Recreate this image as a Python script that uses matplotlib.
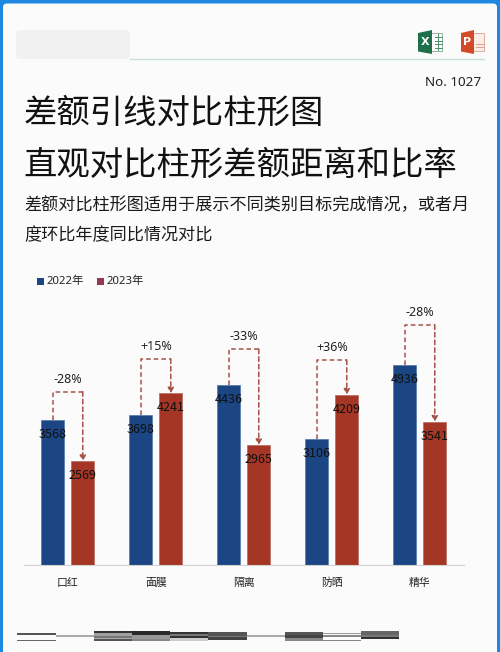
import matplotlib
matplotlib.use("Agg")
import matplotlib.pyplot as plt
from matplotlib.patches import Rectangle, FancyBboxPatch, Polygon

plt.rcParams['font.family'] = ['Noto Sans', 'Noto Sans CJK SC', 'DejaVu Sans']

categories = ['口红', '面膜', '隔离', '防晒', '精华']
series_names = ['2022年', '2023年']
values_2022 = [3568, 3698, 4436, 3106, 4936]
values_2023 = [2569, 4241, 2965, 4209, 3541]
diff_labels = ['-28%', '+15%', '-33%', '+36%', '-28%']
bracket_levels = [4280, 5090, 5330, 5060, 5930]
title_lines = ['差额引线对比柱形图', '直观对比柱形差额距离和比率']
body_lines = ['差额对比柱形图适用于展示不同类别目标完成情况，或者月', '度环比年度同比情况对比']

BLUE = '#1C4583'
RED = '#A53625'
LINE = '#A5524A'
CJK = ['Noto Sans CJK SC', 'DejaVu Sans']

W, H = 500, 652
fig = plt.figure(figsize=(W / 100, H / 100), dpi=100, facecolor='#1E88E0')

# page layer in pixel coordinates
bg = fig.add_axes([0, 0, 1, 1])
bg.set_xlim(0, W)
bg.set_ylim(H, 0)
bg.axis('off')
bg.add_patch(FancyBboxPatch((3, 3.5), W - 6, H + 20, boxstyle='round,pad=0,rounding_size=4',
                            fc='#FBFBFC', ec='none'))

# blurred header block and rule
bg.add_patch(FancyBboxPatch((16, 30), 114, 29, boxstyle='round,pad=0,rounding_size=4',
                            fc='#F1F1F1', ec='none'))
bg.plot([130, 484], [58.7, 58.7], color='#C5DEDC', lw=1)

# Excel icon
bg.add_patch(Rectangle((430, 33), 12, 18, fc='#FFFFFF', ec='#7FA893', lw=0.6))
for yy in (37, 40.5, 44, 47.5):
    bg.plot([435, 441.5], [yy, yy], color='#4E8E6C', lw=0.7)
bg.plot([438, 438], [34, 50], color='#4E8E6C', lw=0.7)
bg.add_patch(Polygon([[418, 33], [432, 30], [432, 54], [418, 51.5]], fc='#1E6F4A', ec='none'))
bg.text(425, 42, 'X', color='white', fontsize=8, fontweight='bold', ha='center', va='center',
        family='DejaVu Sans')
# PowerPoint icon
bg.add_patch(Rectangle((472, 33), 12, 18, fc='#FBEDE6', ec='#D9A48F', lw=0.6))
for yy in (44, 47):
    bg.plot([476, 483], [yy, yy], color='#D9A48F', lw=0.7)
bg.add_patch(Polygon([[461, 33], [474, 30], [474, 54], [461, 51.5]], fc='#D24A26', ec='none'))
bg.text(467.5, 42, 'P', color='white', fontsize=8, fontweight='bold', ha='center', va='center',
        family='DejaVu Sans')
bg.text(481.5, 82, 'No. 1027', fontsize=9.7, color='#222222', ha='right', va='center')

# headings
for y, line in zip((113, 165), title_lines):
    bg.text(23.5, y, line, fontsize=24, color='#111111', ha='left', va='center', family=CJK)
for y, line in zip((205, 235), body_lines):
    bg.text(24, y, line, fontsize=12.3, color='#1A1A1A', ha='left', va='center', family=CJK)

# legend
for x, name, c in zip((36.7, 96.7), series_names, ('#1C4583', '#963850')):
    bg.add_patch(Rectangle((x, 278.2), 7, 7, fc=c, ec='none'))
    bg.text(x + 9.6, 281.5, name, fontsize=8.2, color='#222222', ha='left', va='center')

# bottom stripes (x0, x1, [(y0, y1, colour)...])
stripes = [
    (17, 56, [(633, 634.6, '#555555'), (639.6, 641, '#666666')]),
    (56, 94, [(635.4, 637, '#AAAAAA')]),
    (94, 132, [(630.5, 632.5, '#333333'), (632.5, 636, '#A0A0A0'), (636, 638, '#777777'),
               (638, 639.2, '#AAAAAA'), (639.2, 641, '#555555')]),
    (132, 170, [(630.5, 634.5, '#2A2A2A'), (634.5, 638.5, '#999999'), (638.5, 641, '#888888')]),
    (170, 208, [(631.5, 634, '#333333'), (634, 636, '#777777'), (636, 638, '#333333'),
                (638, 640.5, '#CCCCCC')]),
    (208, 247, [(632, 636, '#555555'), (636, 637, '#777777'), (637, 640, '#444444')]),
    (247, 285, [(635.2, 637, '#AAAAAA')]),
    (285, 323, [(632, 635, '#555555'), (635, 638, '#444444'), (638, 640.5, '#888888')]),
    (323, 361, [(632.5, 634.2, '#999999'), (635, 637, '#888888'), (639.5, 641, '#888888')]),
    (361, 399, [(630.5, 635, '#666666'), (635, 637, '#777777'), (637, 639, '#333333')]),
]
for x0, x1, bands in stripes:
    for y0, y1, c in bands:
        bg.add_patch(Rectangle((x0, y0), x1 - x0, y1 - y0, fc=c, ec='none'))

# chart
left, right, bottom, top = 23.8, 463.8, 565, 285
ax = fig.add_axes([left / W, 1 - bottom / H, (right - left) / W, (bottom - top) / H])
ax.patch.set_alpha(0)
ymax = (bottom - top) / 0.0405
ax.set_xlim(-0.5, 4.5)
ax.set_ylim(0, ymax)
xs = list(range(len(categories)))
off, bw = 15 / 88, 23 / 88
x1 = [x - off for x in xs]
x2 = [x + off for x in xs]
ax.bar(x1, values_2022, bw, color=BLUE, edgecolor='#4F78AE', linewidth=0.5, zorder=2)
ax.bar(x2, values_2023, bw, color=RED, edgecolor='#B56A60', linewidth=0.5, zorder=2)

for a, b, v1, v2, lv, lab in zip(x1, x2, values_2022, values_2023, bracket_levels, diff_labels):
    ax.plot([a, a, b], [v1, lv, lv], color=LINE, lw=1.1, ls=(0, (3, 2)), zorder=3)
    ax.annotate('', xy=(b, v2), xytext=(b, lv), zorder=3,
                arrowprops=dict(arrowstyle='-|>,head_length=0.32,head_width=0.18', color=LINE, lw=1.1,
                                ls=(0, (3, 2)), shrinkA=0, shrinkB=0))
    ax.text((a + b) / 2, lv + 6.5 / 0.0405 + 150, lab, fontsize=9, color='#222222', ha='center', va='center')
    ax.text(a, v1 - 14.5 / 0.0405, str(v1), fontsize=9, color='#111111', ha='center', va='center',
            zorder=4, family=CJK)
    ax.text(b, v2 - 14.5 / 0.0405, str(v2), fontsize=9, color='#111111', ha='center', va='center',
            zorder=4, family=CJK)

for s in ('top', 'left', 'right'):
    ax.spines[s].set_visible(False)
ax.spines['bottom'].set_color('#D0D0D0')
ax.spines['bottom'].set_linewidth(0.8)
ax.set_yticks([])
ax.set_xticks(xs)
ax.set_xticklabels(categories, fontsize=7.8, color='#222222', family=CJK)
ax.tick_params(axis='x', length=0, pad=9)

fig.savefig('out.png', dpi=100, facecolor=fig.get_facecolor())
